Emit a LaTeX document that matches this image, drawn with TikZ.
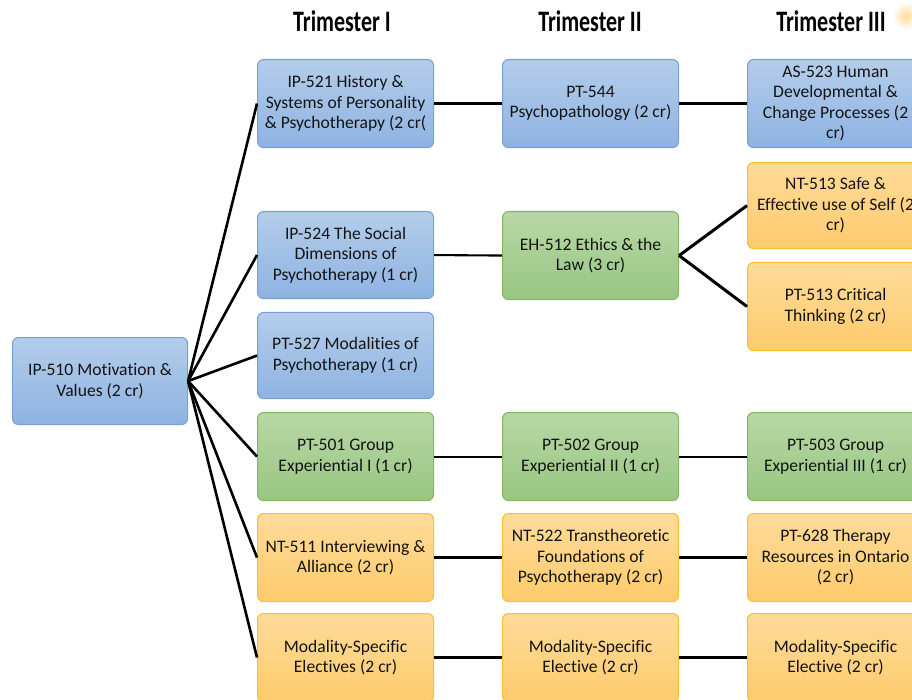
\documentclass[tikz,border=0pt]{standalone}
\usepackage{fontspec}
\setmainfont{Carlito}[Ligatures={NoCommon,NoContextual}]
\usepackage{graphicx}
\definecolor{bluetop}{HTML}{B4CDEA}
\definecolor{bluebot}{HTML}{8EB3E2}
\definecolor{blueline}{HTML}{7A9FD0}
\definecolor{greentop}{HTML}{B8D8A6}
\definecolor{greenbot}{HTML}{98C681}
\definecolor{greenline}{HTML}{82B763}
\definecolor{orangetop}{HTML}{FEDB9A}
\definecolor{orangebot}{HTML}{FECB6C}
\definecolor{orangeline}{HTML}{F7C02E}
\definecolor{txt}{HTML}{141414}
\newcommand{\boxfont}{\fontsize{17.6}{20.5}\selectfont}
\newcommand{\ttlfont}{\fontsize{22}{24}\selectfont\bfseries}
\begin{document}
\begin{tikzpicture}[x=1pt,y=-1pt,
  cbox/.style={rounded corners=6pt, minimum width=176pt, minimum height=88pt,
    inner sep=0pt, align=center, font=\boxfont, text=txt, line width=1.1pt, anchor=north west},
  bluebox/.style={cbox, draw=blueline, top color=bluetop, bottom color=bluebot},
  greenbox/.style={cbox, draw=greenline, top color=greentop, bottom color=greenbot},
  orangebox/.style={cbox, draw=orangeline, top color=orangetop, bottom color=orangebot},
  ttl/.style={font=\ttlfont, text=black, inner sep=0pt},
  fan/.style={line width=2.6pt, black},
  thick line/.style={line width=3pt, black},
  thin line/.style={line width=2.1pt, black}]
\useasboundingbox (0,0) rectangle (912,700);
\clip (0,0) rectangle (912,700);
\fill[white] (0,0) rectangle (912,700);
% faint yellow glow top right
\shade[inner color=orangetop, outer color=white] (906,16) circle (14pt);

% titles
\node[ttl] (t1) at (342,21) {\scalebox{1}[1.35]{Trimester I}};
\node[ttl] (t2) at (590,21) {\scalebox{1}[1.35]{Trimester II}};
\node[ttl] (t3) at (831,21) {\scalebox{1}[1.35]{Trimester III}};

% root
\node[bluebox, minimum width=175pt, minimum height=87pt] (root) at (12,337) {IP-510 Motivation \&\\Values (2 cr)};

% column 1
\node[bluebox] (ip521) at (257,59) {IP-521 History \&\\Systems of Personality\\\& Psychotherapy (2 cr(};
\node[bluebox, minimum height=87pt] (ip524) at (257,211) {IP-524 The Social\\Dimensions of\\Psychotherapy (1 cr)};
\node[bluebox, minimum height=86pt] (pt527) at (257,312) {PT-527 Modalities of\\Psychotherapy (1 cr)};
\node[greenbox] (pt501) at (257,412) {PT-501 Group\\Experiential I (1 cr)};
\node[orangebox] (nt511) at (257,513) {NT-511 Interviewing \&\\Alliance (2 cr)};
\node[orangebox] (ms1) at (257,613) {Modality-Specific\\Electives (2 cr)};

% column 2
\node[bluebox] (pt544) at (502,59) {PT-544\\Psychopathology (2 cr)};
\node[greenbox] (eh512) at (502,211) {EH-512 Ethics \& the\\Law (3 cr)};
\node[greenbox] (pt502) at (502,412) {PT-502 Group\\Experiential II (1 cr)};
\node[orangebox] (nt522) at (502,513) {NT-522 Transtheoretic\\Foundations of\\Psychotherapy (2 cr)};
\node[orangebox] (ms2) at (502,613) {Modality-Specific\\Elective (2 cr)};

% column 3
\node[bluebox] (as523) at (747,59) {AS-523 Human\\Developmental \&\\Change Processes (2\\cr)};
\node[orangebox, minimum height=86pt] (nt513) at (747,162) {NT-513 Safe \&\\Effective use of Self (2\\cr)};
\node[orangebox] (pt513) at (747,262) {PT-513 Critical\\Thinking (2 cr)};
\node[greenbox] (pt503) at (747,412) {PT-503 Group\\Experiential III (1 cr)};
\node[orangebox] (pt628) at (747,513) {PT-628 Therapy\\Resources in Ontario\\(2 cr)};
\node[orangebox] (ms3) at (747,613) {Modality-Specific\\Elective (2 cr)};

% fan from root
\foreach \t in {ip521,ip524,pt527,pt501,nt511,ms1}
  \draw[fan] (root.east) -- (\t.west);

% row connectors
\draw[thick line] (ip521.east) -- (pt544.west);
\draw[thick line] (pt544.east) -- (as523.west);
\draw[thin line] (ip524.east) -- (eh512.west);
\draw[thick line] (eh512.east) -- (nt513.west);
\draw[thick line] (eh512.east) -- (pt513.west);
\draw[thin line] (pt501.east) -- (pt502.west);
\draw[thin line] (pt502.east) -- (pt503.west);
\draw[thick line] (nt511.east) -- (nt522.west);
\draw[thick line] (nt522.east) -- (pt628.west);
\draw[thick line] (ms1.east) -- (ms2.west);
\draw[thick line] (ms2.east) -- (ms3.west);
\end{tikzpicture}
\end{document}
